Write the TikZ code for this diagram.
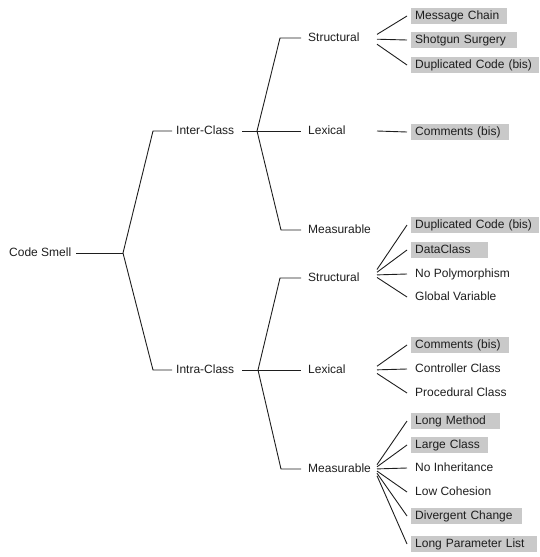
\documentclass[tikz,border=0pt]{standalone}
\usepackage{fontspec}
\setmainfont{Liberation Sans}
\definecolor{boxgray}{HTML}{C9C9C9}
\definecolor{ink}{HTML}{1E1E1E}
\begin{document}
\begin{tikzpicture}[x=1pt,y=-1pt,
  lbl/.style={anchor=west,inner sep=0pt,text height=8.6pt,text depth=2.5pt,
    font=\fontsize{12}{14}\selectfont,text=ink},
  leaf/.style={lbl,inner xsep=4pt,inner ysep=2.45pt},
  smell/.style={leaf,fill=boxgray,text width=#1,align=left},
  edge/.style={line width=0.9pt,draw=ink}]
\useasboundingbox (0,0) rectangle (539,557);

% ---- main labels
\node[lbl] (cs)    at (9,253)   {Code Smell};
\node[lbl] (inter) at (176,131) {Inter-Class};
\node[lbl] (intra) at (176,370) {Intra-Class};
\node[lbl] (s1)    at (308,38)  {Structural};
\node[lbl] (l1)    at (308,131) {Lexical};
\node[lbl] (m1)    at (308,230) {Measurable};
\node[lbl] (s2)    at (308,278) {Structural};
\node[lbl] (l2)    at (308,370) {Lexical};
\node[lbl] (m2)    at (308,469) {Measurable};

% ---- junctions and elbows
\coordinate (j0) at (123,253);
\coordinate (e1) at (153,131);
\coordinate (e2) at (153,370);
\coordinate (j1) at (257,131);
\coordinate (e3) at (280,38);
\coordinate (e4) at (281,230);
\coordinate (j2) at (258,370);
\coordinate (e5) at (280,278);
\coordinate (e6) at (281,469);

\draw[edge] ([xshift=5pt]cs.east) -- (j0);
\draw[edge] (j0) -- (e1) -- ([xshift=-4pt]inter.west);
\draw[edge] (j0) -- (e2) -- ([xshift=-4pt]intra.west);

\draw[edge] ([xshift=8pt]inter.east) -- (j1);
\draw[edge] (j1) -- (e3) -- ([xshift=-7pt]s1.west);
\draw[edge] (j1) -- ([xshift=-7pt]l1.west);
\draw[edge] (j1) -- (e4) -- ([xshift=-7pt]m1.west);

\draw[edge] ([xshift=8pt]intra.east) -- (j2);
\draw[edge] (j2) -- (e5) -- ([xshift=-7pt]s2.west);
\draw[edge] (j2) -- ([xshift=-7pt]l2.west);
\draw[edge] (j2) -- (e6) -- ([xshift=-7pt]m2.west);

% ---- leaves
\node[smell=88pt]  (mc)  at (411,16)  {Message Chain};
\node[smell=98pt]  (ss)  at (411,40)  {Shotgun Surgery};
\node[smell=120pt] (dc1) at (411,65)  {Duplicated Code (bis)};
\node[smell=90pt]  (cm1) at (411,132) {Comments (bis)};

\node[smell=120pt] (dc2) at (411,225) {Duplicated Code (bis)};
\node[smell=69pt]  (dcl) at (411,250) {DataClass};
\node[leaf]        (np)  at (411,274) {No Polymorphism};
\node[leaf]        (gv)  at (411,297) {Global Variable};

\node[smell=90pt]  (cm2) at (411,345) {Comments (bis)};
\node[leaf]        (cc)  at (411,369) {Controller Class};
\node[leaf]        (pc)  at (411,393) {Procedural Class};

\node[smell=81pt]  (lm)  at (411,421) {Long Method};
\node[smell=69pt]  (lc)  at (411,445) {Large Class};
\node[leaf]        (ni)  at (411,468) {No Inheritance};
\node[leaf]        (lo)  at (411,492) {Low Cohesion};
\node[smell=103pt] (dv)  at (411,516) {Divergent Change};
\node[smell=118pt] (lp)  at (411,544) {Long Parameter List};

% ---- fan origins
\coordinate (f1) at (377,39);
\coordinate (f2) at (377,131);
\coordinate (f3) at (377,275);
\coordinate (f4) at (377,370);
\coordinate (f5) at (377,469);

\foreach \n/\d in {mc/-23,ss/1,dc1/26}
  \draw[edge] ([yshift=-0.2*\d pt]f1) -- ([xshift=-4pt]\n.west);
\draw[edge] (f2) -- ([xshift=-4pt]cm1.west);
\foreach \n/\d in {dc2/-50,dcl/-25,np/-1,gv/22}
  \draw[edge] ([yshift=-0.11*\d pt]f3) -- ([xshift=-4pt]\n.west);
\foreach \n/\d in {cm2/-25,cc/-1,pc/23}
  \draw[edge] ([yshift=-0.15*\d pt]f4) -- ([xshift=-4pt]\n.west);
\foreach \n/\d in {lm/-48,lc/-24,ni/-1,lo/23,dv/47,lp/75}
  \draw[edge] ([yshift=-0.09*\d pt]f5) -- ([xshift=-4pt]\n.west);
\end{tikzpicture}
\end{document}
